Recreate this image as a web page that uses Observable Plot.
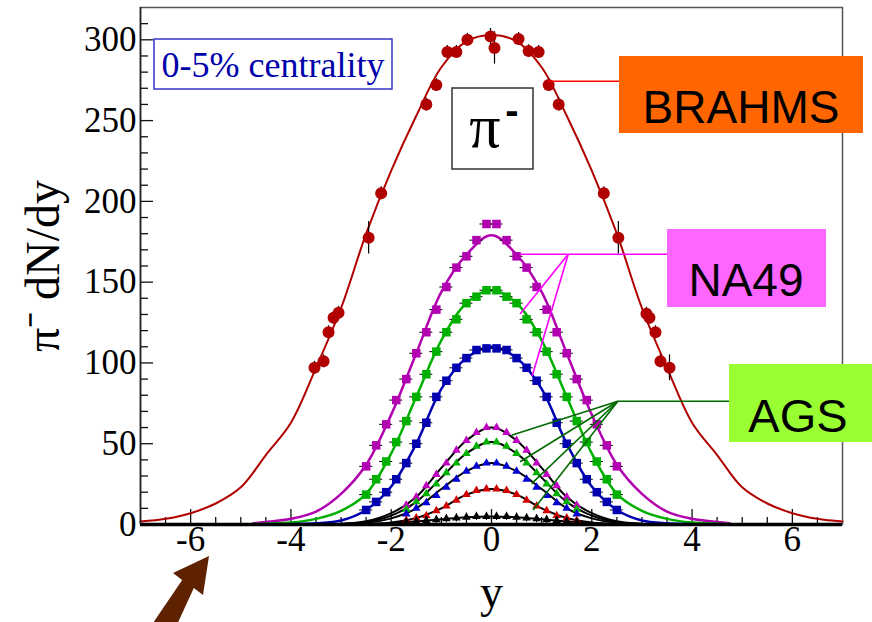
<!DOCTYPE html>
<html><head><meta charset="utf-8">
<script src="https://cdn.jsdelivr.net/npm/d3@7"></script>
<script src="https://cdn.jsdelivr.net/npm/@observablehq/plot@0.6"></script>
<style>html,body{margin:0;padding:0;background:#fff;} #chart{width:872px;height:622px;overflow:hidden;position:relative}</style>
</head><body><div id="chart"></div>
<script>
// ---------- DATA ----------
// BRAHMS (pi- dN/dy, 0-5% central)
const brahmsX   = [-3.53,-3.35,-3.25,-3.15,-3.05,-2.45,-2.2,-1.3,-1.1,-0.88,-0.7,-0.48,-0.02,0.06,0.54,0.74,0.94,1.14,1.34,2.24,2.53,3.09,3.15,3.27,3.37,3.55];
const brahmsY   = [97,101,119,128,131,177.5,205,260,272,292.5,292.5,300,302,295,300.5,293,292.5,272,260,205,177.5,130.5,128,119,101,97];
const brahmsErr = [4,4,4,4,4,10,4,4,4,4,4,4,5,10,4,4,4,4,4,4,10,4,4,4,4,8];
const brahmsCurveX = [-7,-6.5,-6,-5.5,-5,-4.5,-4,-3.5,-3,-2.5,-2,-1.5,-1,-0.5,0,0.5,1,1.5,2,2.5,3,3.5,4,4.5,5,5.5,6,6.5,7];
const brahmsCurveY = [1.8,3.5,7,13,23,43,63,97,134,180,219,253,283,299,303,299,283,253,219,180,134,97,63,43,23,13,7,3.5,1.8];

// NA49 (three energies)
const na49X      = [-2.5,-2.3,-2.1,-1.9,-1.7,-1.5,-1.3,-1.1,-0.9,-0.7,-0.5,-0.3,-0.1,0.1,0.3,0.5,0.7,0.9,1.1,1.3,1.5,1.7,1.9,2.1,2.3,2.5];
const na49MagY   = [36,49,62,77,90,106,119,133,147,159,166,176,186,186,176,166,159,147,133,119,106,90,77,62,49,36];
const na49GreenY = [18.5,28,39,51,64,79,93,107,119,127,137,141,145,145,141,137,127,119,107,93,79,64,51,39,28,18.5];
const na49BlueY  = [9,14,20,28,38,50,63,79,89,97,103,108,109,109,108,103,97,89,79,63,50,38,28,20,14,9];
const na49CurveX     = [-4.75,-4.5,-4,-3.5,-3,-2.5,-2,-1.5,-1,-0.5,0,0.5,1,1.5,2,2.5,3,3.5,4,4.5,4.75];
const na49MagCurve   = [0.8,1.5,3.5,8,19,37,68,106,144,167,179,167,144,106,68,37,19,8,3.5,1.5,0.8];
const na49GreenCurve = [0.3,0.5,1.2,3.5,8.5,19,44,79,114,137,145,137,114,79,44,19,8.5,3.5,1.2,0.5,0.3];
const na49BlueCurve  = [0.05,0.1,0.2,0.7,2.5,9,23.5,50,84,103,110,103,84,50,23.5,9,2.5,0.7,0.2,0.1,0.05];

// AGS (five energies)
const agsCurveX = [-3,-2.5,-2,-1.5,-1,-0.5,0,0.5,1,1.5,2,2.5,3];
const ags1Curve = [0.5,2,7,17,35,52,60,52,35,17,7,2,0.5];
const ags2Curve = [0.3,1.5,5.5,14,29,44,51,44,29,14,5.5,1.5,0.3];
const ags3Curve = [0.2,1,3.8,10,22,33,38,33,22,10,3.8,1,0.2];
const ags4Curve = [0.05,0.3,1.2,4,10,18.5,22,18.5,10,4,1.2,0.3,0.05];
const ags5Curve = [0.1,0.3,0.7,1.9,3.2,4.5,5,4.5,3.2,1.9,0.7,0.3,0.1];
const agsX    = [-1.7,-1.5,-1.3,-1.1,-0.9,-0.7,-0.5,-0.3,-0.1,0.1,0.3,0.5,0.7,0.9,1.1,1.3,1.5,1.7];
const ags1Pts = [12,17,24,31,38,46,52,57,60,60,57,52,46,38,31,24,17,12];
const ags2Pts = [9.5,14,19,25,32,38,44,48.5,51,51,48.5,44,38,32,25,19,14,9.5];
const ags3Pts = [6.5,10,13.5,18,23,28,33,36,38,38,36,33,28,23,18,13.5,10,6.5];
const ags4Pts = [2.5,4,5.5,8.5,11.5,15,18.5,21,22,22,21,18.5,15,11.5,8.5,5.5,4,2.5];
const ags5Pts = [1.5,2,2.5,3,3.5,4,4.5,5,5,5,5,4.5,4,3.5,3,2.5,2,1.5];

// Axis ticks
const xMajor = [-6,-4,-2,0,2,4,6];
const xMinor = [-6.5,-5.5,-5,-4.5,-3.5,-3,-2.5,-1.5,-1,-0.5,0.5,1,1.5,2.5,3,3.5,4.5,5,5.5,6.5];
const yMajor = [0,50,100,150,200,250,300];
const yMinor = [10,20,30,40,60,70,80,90,110,120,130,140,160,170,180,190,210,220,230,240,260,270,280,290,310];

// ---------- BUILD ----------
const zip = (xs, ys, extra) => xs.map((x, i) => ({x, y: ys[i], e: extra ? extra[i] : 0}));
const serif = '"Liberation Serif","Times New Roman",serif';
const sans = '"Liberation Sans",Arial,sans-serif';

const brahms = zip(brahmsX, brahmsY, brahmsErr);
const brahmsCurve = zip(brahmsCurveX, brahmsCurveY);
const na49Series = [
  {pts: zip(na49X, na49MagY), curve: zip(na49CurveX, na49MagCurve), color: "#b000b0"},
  {pts: zip(na49X, na49GreenY), curve: zip(na49CurveX, na49GreenCurve), color: "#00b000"},
  {pts: zip(na49X, na49BlueY), curve: zip(na49CurveX, na49BlueCurve), color: "#0000b0"}
];
const agsSeries = [
  {pts: zip(agsX, ags1Pts), curve: zip(agsCurveX, ags1Curve), color: "#c000c0"},
  {pts: zip(agsX, ags2Pts), curve: zip(agsCurveX, ags2Curve), color: "#00b000"},
  {pts: zip(agsX, ags3Pts), curve: zip(agsCurveX, ags3Curve), color: "#0000d0"},
  {pts: zip(agsX, ags4Pts), curve: zip(agsCurveX, ags4Curve), color: "#d00000"},
  {pts: zip(agsX, ags5Pts), curve: zip(agsCurveX, ags5Curve), color: "#000000"}
];

const W = 872, H = 622, mL = 140, mR = 30, mT = 7, mB = 98;
const xDom = [-7, 7], yDom = [0, 320];
const xPerPx = (xDom[1] - xDom[0]) / (W - mL - mR);
const yPerPx = (yDom[1] - yDom[0]) / (H - mT - mB);

const marks = [
  Plot.frame({stroke: "#555", strokeWidth: 1.5}),
  // inward ticks
  Plot.ruleX(xMajor, {x: d => d, y1: 0, y2: 15 * yPerPx, stroke: "#111", strokeWidth: 1.3}),
  Plot.ruleX(xMinor, {x: d => d, y1: 0, y2: 7 * yPerPx, stroke: "#111", strokeWidth: 1.3}),
  Plot.ruleY(yMajor, {y: d => d, x1: -7, x2: -7 + 13 * xPerPx, stroke: "#111", strokeWidth: 1.3}),
  Plot.ruleY(yMinor, {y: d => d, x1: -7, x2: -7 + 8 * xPerPx, stroke: "#111", strokeWidth: 1.3}),
  // curves
  Plot.line(brahmsCurve, {x: "x", y: "y", stroke: "#b00000", strokeWidth: 2, curve: "catmull-rom"})
];
for (const s of na49Series) {
  marks.push(Plot.line(s.curve, {x: "x", y: "y", stroke: s.color, strokeWidth: 2.5, curve: "catmull-rom"}));
}
for (const s of agsSeries) {
  marks.push(Plot.line(s.curve, {x: "x", y: "y", stroke: "#000", strokeWidth: 2, curve: "catmull-rom"}));
}
for (const s of na49Series) {
  marks.push(Plot.ruleY(s.pts, {y: "y", x1: d => d.x - 0.13, x2: d => d.x + 0.13, stroke: "#000", strokeWidth: 1}));
  marks.push(Plot.dot(s.pts, {x: "x", y: "y", symbol: "square", r: 4.8, fill: s.color, stroke: "none"}));
}
for (const s of agsSeries) {
  if (s.color === "#000000") {
    marks.push(Plot.ruleX(s.pts, {x: "x", y1: d => d.y - 2.5, y2: d => d.y + 2.5, stroke: "#000", strokeWidth: 1}));
  }
  marks.push(Plot.dot(s.pts, {x: "x", y: "y", symbol: "triangle", r: 3.2, fill: s.color, stroke: "none"}));
}
marks.push(
  Plot.ruleX(brahms, {x: "x", y1: d => d.y - d.e, y2: d => d.y + d.e, stroke: "#000", strokeWidth: 1.2}),
  Plot.dot(brahms, {x: "x", y: "y", r: 6, fill: "#b00000", stroke: "none"}),
  // axis lines
  Plot.ruleY([0], {stroke: "#000", strokeWidth: 3.5}),
  Plot.ruleX([-7], {stroke: "#222", strokeWidth: 1.6}),
  // tick labels
  Plot.text(xMajor, {x: d => d, text: d => String(d), frameAnchor: "bottom", dy: 26, fontSize: 35, fontFamily: serif, fill: "#000"}),
  Plot.text(yMajor, {y: d => d, text: d => String(d), frameAnchor: "left", dx: -4, textAnchor: "end", fontSize: 35, fontFamily: serif, fill: "#000"}),
  // axis titles
  Plot.text(["y"], {text: d => d, frameAnchor: "bottom", dy: 82, fontSize: 46, fontFamily: serif, fill: "#000"}),
  Plot.text(["π⁻ dN/dy"], {text: d => d, frameAnchor: "left", textAnchor: "middle", dx: -97, rotate: -90, fontSize: 48, fontFamily: serif, fill: "#000"})
);

const chart = Plot.plot({
  width: W, height: H,
  marginLeft: mL, marginRight: mR, marginTop: mT, marginBottom: mB,
  x: {domain: xDom, axis: null},
  y: {domain: yDom, axis: null},
  style: {background: "white", fontFamily: serif, overflow: "visible"},
  marks
});
document.getElementById("chart").append(chart);

// ---------- ANNOTATIONS ----------
const sx = chart.scale("x"), sy = chart.scale("y");
const svg = d3.select(chart);
const g = svg.append("g");
const P = (x, y) => [sx.apply(x), sy.apply(y)];
function seg(a, b, color) {
  const p = P(a[0], a[1]), q = P(b[0], b[1]);
  g.append("line").attr("x1", p[0]).attr("y1", p[1]).attr("x2", q[0]).attr("y2", q[1])
    .attr("stroke", color).attr("stroke-width", 1.6);
}
// connector lines (data coordinates)
seg([1.14, 274], [2.57, 274], "#ff0000");
seg([0.58, 167], [3.51, 167], "#ff00ff");
seg([1.54, 167], [0.58, 130], "#ff00ff");
seg([1.54, 167], [0.82, 91.5], "#ff00ff");
seg([2.53, 76], [4.75, 76], "#006a00");
for (const e of [[0.41, 55], [0.58, 38.5], [0.81, 25], [0.84, 8.7]]) seg([2.53, 76], e, "#006a00");

function box(x, y, w, h, fill, stroke, sw) {
  g.append("rect").attr("x", x).attr("y", y).attr("width", w).attr("height", h)
    .attr("fill", fill).attr("stroke", stroke || "none").attr("stroke-width", sw || 0);
}
function label(t, x, y, size, family, color, weight) {
  g.append("text").attr("x", x).attr("y", y).attr("text-anchor", "middle")
    .attr("font-family", family).attr("font-size", size).attr("fill", color)
    .attr("font-weight", weight || "normal").text(t);
}
box(154, 39, 238, 50, "white", "#3333cc", 1.5);
label("0-5% centrality", 273, 77, 36, serif, "#0000aa");
box(452, 88, 81, 81, "white", "#333", 1.5);
label("π", 485, 147, 62, serif, "#000");
label("-", 512, 124, 40, sans, "#000", "bold");
box(619, 56, 244, 77, "#ff6600");
label("BRAHMS", 741, 123, 46, sans, "#000");
box(667, 229, 159, 78, "#ff66ff");
label("NA49", 746, 296, 46, sans, "#000");
box(729, 364, 143, 78, "#99ff33");
label("AGS", 798, 432, 47, sans, "#000");
// arrow
g.append("path")
  .attr("d", "M209,556 L173,573 L182.2,580.1 L154,621.5 L154,640 L170,640 L193.8,587.9 L203,595 Z")
  .attr("fill", "#5e2200");
</script>
</body></html>
